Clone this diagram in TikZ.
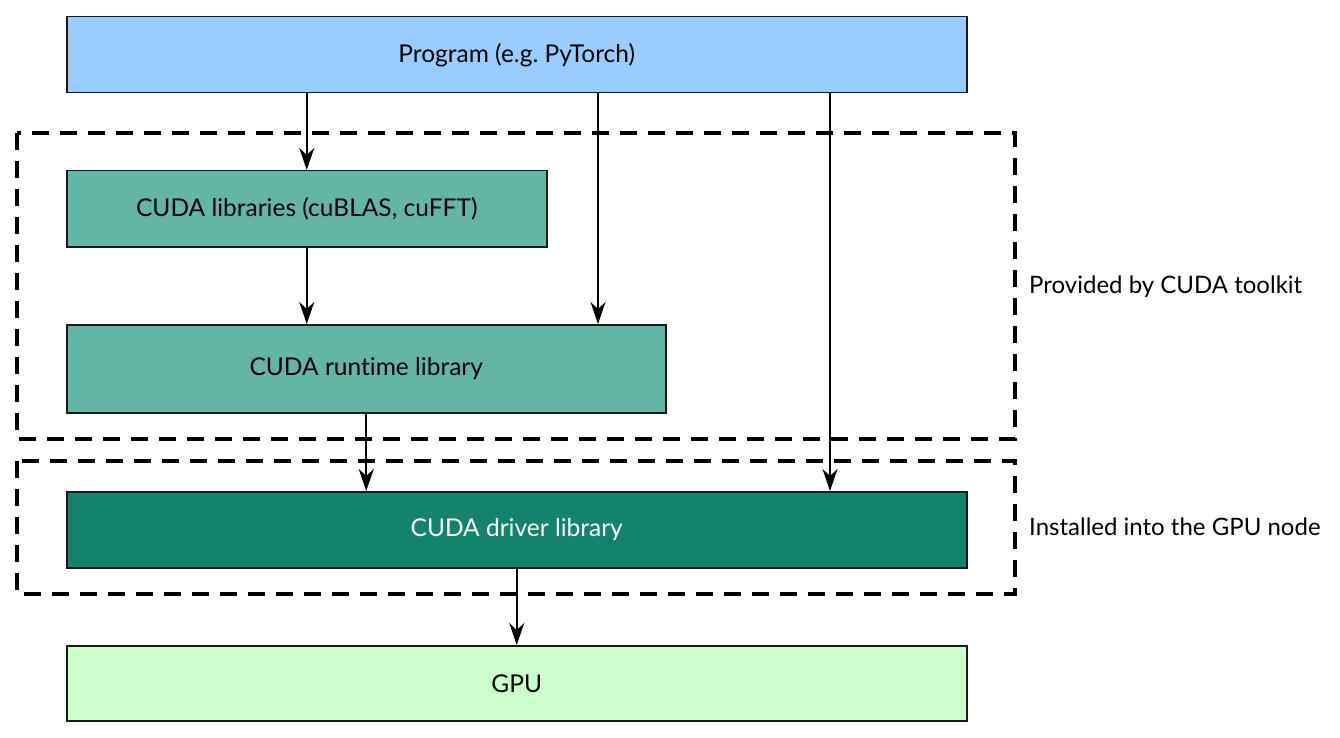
\documentclass[tikz,border=0pt]{standalone}
\usepackage{fontspec}
\setmainfont{Lato}[Ligatures={NoCommon,NoRare,NoDiscretionary}]
\usetikzlibrary{arrows.meta,positioning}
\definecolor{progc}{HTML}{99CCFF}
\definecolor{libc}{HTML}{63B5A6}
\definecolor{drvc}{HTML}{13836E}
\definecolor{gpuc}{HTML}{CCFFCC}
\frenchspacing
\begin{document}
\begin{tikzpicture}[x=1pt,y=-1pt,
  box/.style={draw=black!90,line width=1.5pt,inner sep=0pt,anchor=north west,
    font=\fontsize{24.5}{28}\selectfont},
  arr/.style={line width=1.8pt,-{Stealth[length=22pt,width=15pt,inset=7pt]}},
  grp/.style={draw=black,line width=3.4pt,dash pattern=on 17pt off 11pt},
  lbl/.style={anchor=west,inner sep=0pt,font=\fontsize{24}{28}\selectfont}]
\useasboundingbox (0,0) rectangle (1340,738);
\node[box,fill=progc,minimum width=900pt,minimum height=76pt] (prog) at (66,16) {Program (e.g. PyTorch)};
\node[box,fill=libc,minimum width=480pt,minimum height=76pt] (lib) at (66,170) {CUDA libraries (cuBLAS, cuFFT)};
\node[box,fill=libc,minimum width=599pt,minimum height=88pt] (rt) at (66,324) {CUDA runtime library};
\node[box,fill=drvc,text=white,minimum width=900pt,minimum height=76pt] (drv) at (66,491) {CUDA driver library};
\node[box,fill=gpuc,minimum width=900pt,minimum height=75pt] (gpu) at (66,645) {GPU};
\draw[grp] (17,133) rectangle (1015,439);
\draw[grp] (17,461) rectangle (1015,594);
\node[lbl] (l1) at (1029,287) {Provided by CUDA toolkit};
\node[lbl] (l2) at (1029,527) {Installed into the GPU node};
\draw[arr] (prog.south -| lib.north) -- (lib.north);
\draw[arr] ([xshift=532pt]prog.south west) -- ([xshift=532pt]rt.north west);
\draw[arr] ([xshift=764pt]prog.south west) -- ([xshift=764pt]drv.north west);
\draw[arr] (lib.south) -- (rt.north -| lib.south);
\draw[arr] (rt.south) -- (rt.south |- drv.north);
\draw[arr] (drv.south) -- (gpu.north);
\end{tikzpicture}
\end{document}
